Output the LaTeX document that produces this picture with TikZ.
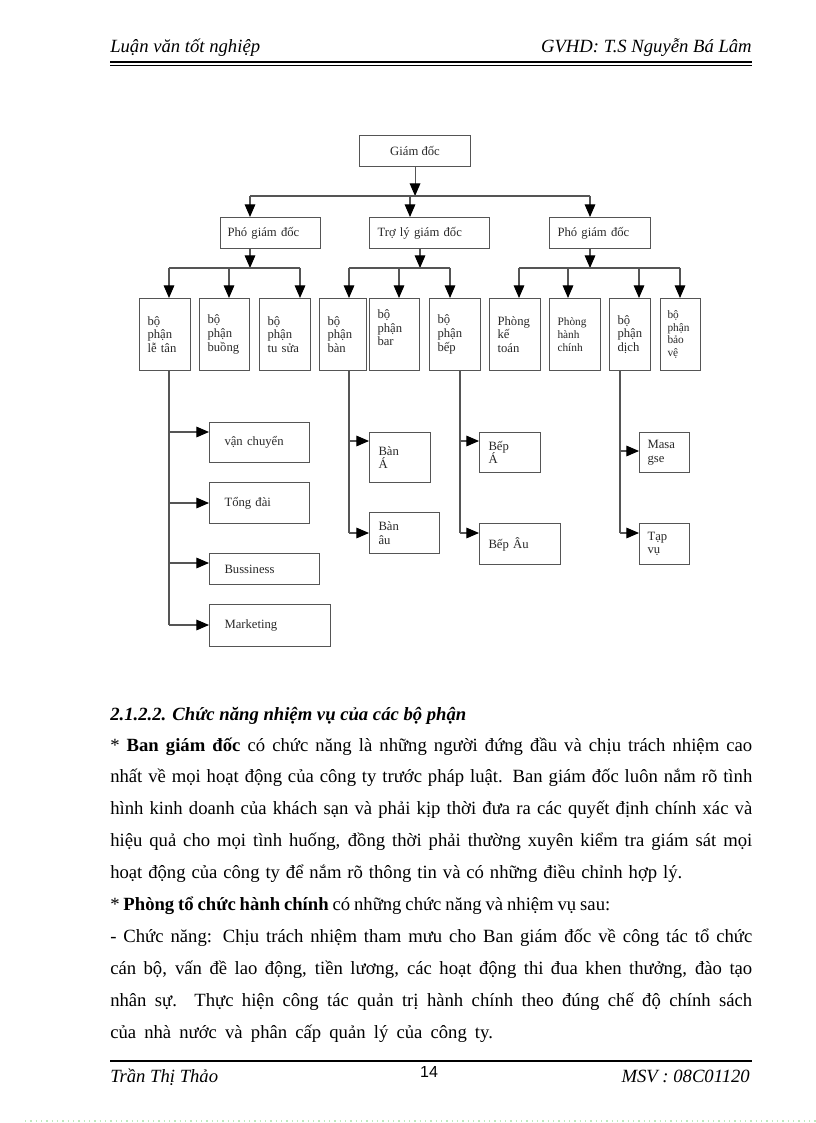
\documentclass[tikz,border=0pt]{standalone}
\usepackage{fontspec}
\setmainfont{Liberation Serif}
\newfontfamily\sansf{Liberation Sans}
\usetikzlibrary{arrows.meta}
\definecolor{lncol}{RGB}{85,85,85}
\definecolor{txcol}{RGB}{40,40,40}
\definecolor{dotcol}{RGB}{190,232,190}
\newcommand\chartfont{\fontsize{9.5}{10.2}\selectfont}
\newcommand\smallchart{\fontsize{8.5}{9.6}\selectfont}
\newcommand\hdfont{\fontsize{14}{16}\selectfont\itshape}
\newcommand\bodyfont{\fontsize{14}{16}\selectfont}
\newcommand\jline[1]{\makebox[481.5pt][s]{#1}}
\begin{document}
\begin{tikzpicture}[x=0.75pt,y=-0.75pt,
  box/.style={draw=lncol, line width=0.8pt, anchor=north west, font=\chartfont,
    text=txcol, align=left, inner ysep=0pt, inner xsep=6pt},
  ln/.style={draw=lncol, line width=0.8pt},
  arr/.style={ln, -{Triangle[width=8pt,length=9.5pt,color=black]}},
  txt/.style={inner sep=0pt, font=\bodyfont},
  rule/.style={draw=black}]
\useasboundingbox (0,0) rectangle (816,1123);

% ---------- header ----------
\node[txt, font=\hdfont, anchor=base west] (hl) at (110,53) {Luận văn tốt nghiệp};
\node[txt, font=\hdfont, anchor=base east] (hr) at (752,53) {GVHD: T.S Nguyễn Bá Lâm};
\coordinate (h1a) at (110,62); \coordinate (h1b) at (752,62);
\coordinate (h2a) at (110,65.5); \coordinate (h2b) at (752,65.5);
\draw[rule, line width=1.5pt] (h1a) -- (h1b);
\draw[rule, line width=0.6pt] (h2a) -- (h2b);

% ---------- chart: level 1 and 2 ----------
\node[box, align=center, minimum width=83.25pt, minimum height=23.25pt] (gd) at (359,135) {Giám đốc};
\node[box, minimum width=75pt, minimum height=23.25pt, inner xsep=5.25pt, text width=64.5pt] (p1) at (220,217) {Phó giám đốc};
\node[box, minimum width=90pt, minimum height=23.25pt, text width=78pt] (tl) at (369,217) {Trợ lý giám đốc};
\node[box, minimum width=75.75pt, minimum height=23.25pt, text width=63.75pt] (p2) at (549,217) {Phó giám đốc};

% ---------- level 3 ----------
\node[box, minimum width=38.25pt, minimum height=54pt, text width=26.25pt] (lt) at (139,298) {bộ\\phận\\lễ tân};
\node[box, minimum width=37.5pt, minimum height=54pt, text width=25.5pt] (bg) at (199,298) {bộ\\phận\\buồng};
\node[box, minimum width=38.25pt, minimum height=54pt, text width=26.25pt] (ts) at (259,298) {bộ\\phận\\tu sửa};
\node[box, minimum width=35.25pt, minimum height=54pt, text width=23.25pt] (bn) at (319,298) {bộ\\phận\\bàn};
\node[box, minimum width=37.5pt, minimum height=54pt, text width=25.5pt] (br) at (369,298) {bộ\\phận\\bar\\[0pt]\mbox{}};
\node[box, minimum width=38.25pt, minimum height=54pt, text width=26.25pt] (bp) at (429,298) {bộ\\phận\\bếp};
\node[box, minimum width=38.25pt, minimum height=54pt, text width=26.25pt] (kt) at (489,298) {Phòng\\kế\\toán};
\node[box, font=\smallchart, minimum width=38.25pt, minimum height=54pt, text width=26.25pt] (hc) at (549,298) {Phòng\\hành\\chính};
\node[box, minimum width=30.75pt, minimum height=54pt, text width=18.75pt] (dc) at (609,298) {bộ\\phận\\dịch};
\node[box, font=\smallchart, minimum width=30pt, minimum height=54pt, inner xsep=5.25pt, text width=19.5pt] (bv) at (660,298) {bộ\\phận\\bảo\\vệ};

% ---------- level 4 ----------
\node[box, minimum width=75pt, minimum height=30pt, inner xsep=11.25pt, text width=52.5pt] (vc) at (209,422) {vận chuyển};
\node[box, minimum width=75pt, minimum height=30.75pt, inner xsep=11.25pt, text width=52.5pt] (td) at (209,482) {Tổng đài};
\node[box, minimum width=82.5pt, minimum height=23.25pt, inner xsep=11.25pt, text width=60pt] (bs) at (209,553) {Bussiness};
\node[box, minimum width=90.75pt, minimum height=31.5pt, inner xsep=11.25pt, text width=68.25pt] (mk) at (209,604) {Marketing};
\node[box, minimum width=45.75pt, minimum height=37.5pt, inner xsep=6.75pt, text width=32.25pt] (ba) at (369,432) {Bàn\\Á};
\node[box, minimum width=52.5pt, minimum height=30.75pt, inner xsep=6.75pt, text width=39pt] (bu) at (369,512) {Bàn\\âu};
\node[box, minimum width=45.75pt, minimum height=30pt, inner xsep=6.75pt, text width=32.25pt] (ea) at (479,432) {Bếp\\Á};
\node[box, minimum width=60.75pt, minimum height=30.75pt, inner xsep=6.75pt, text width=47.25pt] (eu) at (479,523) {Bếp Âu};
\node[box, minimum width=37.5pt, minimum height=30pt, text width=25.5pt] (ms) at (639,432) {Masa\\gse};
\node[box, minimum width=37.5pt, minimum height=30.75pt, text width=25.5pt] (tv) at (639,523) {Tạp\\vụ};

% ---------- connectors level 1 -> 2 ----------
\coordinate (j0L) at (250,196); \coordinate (j0M) at (410,196); \coordinate (j0R) at (590,196);
\draw[arr] (gd.south) -- (gd.south |- j0L);
\draw[ln] (j0L) -- (j0R);
\draw[arr] (j0L) -- (j0L |- p1.north);
\draw[arr] (j0M) -- (j0M |- tl.north);
\draw[arr] (j0R) -- (j0R |- p2.north);

% ---------- level 2 -> 3 ----------
\coordinate (a0) at (250,268);
\coordinate (a1) at (169,268); \coordinate (a2) at (229,268); \coordinate (a3) at (300,268);
\draw[arr] (a0 |- p1.south) -- (a0);
\draw[ln] (a1) -- (a3);
\draw[arr] (a1) -- (a1 |- lt.north);
\draw[arr] (a2) -- (a2 |- bg.north);
\draw[arr] (a3) -- (a3 |- ts.north);

\coordinate (b0) at (420,268);
\coordinate (b1) at (349,268); \coordinate (b2) at (399,268); \coordinate (b3) at (450,268);
\draw[arr] (b0 |- tl.south) -- (b0);
\draw[ln] (b1) -- (b3);
\draw[arr] (b1) -- (b1 |- bn.north);
\draw[arr] (b2) -- (b2 |- br.north);
\draw[arr] (b3) -- (b3 |- bp.north);

\coordinate (c0) at (590,268);
\coordinate (c1) at (519,268); \coordinate (c2) at (568,268); \coordinate (c3) at (639,268); \coordinate (c4) at (680,268);
\draw[arr] (c0 |- p2.south) -- (c0);
\draw[ln] (c1) -- (c4);
\draw[arr] (c1) -- (c1 |- kt.north);
\draw[arr] (c2) -- (c2 |- hc.north);
\draw[arr] (c3) -- (c3 |- dc.north);
\draw[arr] (c4) -- (c4 |- bv.north);

% ---------- level 3 -> 4 ----------
\coordinate (d1) at (169,432); \coordinate (d2) at (169,503); \coordinate (d3) at (169,563); \coordinate (d4) at (169,625);
\draw[ln] (d4 |- lt.south) -- (d4);
\draw[arr] (d1) -- (d1 -| vc.west);
\draw[arr] (d2) -- (d2 -| td.west);
\draw[arr] (d3) -- (d3 -| bs.west);
\draw[arr] (d4) -- (d4 -| mk.west);

\coordinate (e1) at (349,441); \coordinate (e2) at (349,533);
\draw[ln] (e2 |- bn.south) -- (e2);
\draw[arr] (e1) -- (e1 -| ba.west);
\draw[arr] (e2) -- (e2 -| bu.west);

\coordinate (f1) at (460,441); \coordinate (f2) at (460,533);
\draw[ln] (f2 |- bp.south) -- (f2);
\draw[arr] (f1) -- (f1 -| ea.west);
\draw[arr] (f2) -- (f2 -| eu.west);

\coordinate (g1) at (620,451); \coordinate (g2) at (620,533);
\draw[ln] (g2 |- dc.south) -- (g2);
\draw[arr] (g1) -- (g1 -| ms.west);
\draw[arr] (g2) -- (g2 -| tv.west);

% ---------- body text ----------
\node[txt, anchor=base west] (t0) at (110,720) {\textbf{\textit{2.1.2.2. Chức năng nhiệm vụ của các bộ phận}}};
\node[txt, anchor=base west] (t1) at (110,751) {\jline{* \textbf{Ban giám đốc} có chức năng là những người đứng đầu và chịu trách nhiệm cao}};
\node[txt, anchor=base west] (t2) at (110,782.9) {\jline{nhất về mọi hoạt động của công ty trước pháp luật. Ban giám đốc luôn nắm rõ tình}};
\node[txt, anchor=base west] (t3) at (110,814.8) {\jline{hình kinh doanh của khách sạn và phải kịp thời đưa ra các quyết định chính xác và}};
\node[txt, anchor=base west] (t4) at (110,846.7) {\jline{hiệu quả cho mọi tình huống, đồng thời phải thường xuyên kiểm tra giám sát mọi}};
\node[txt, anchor=base west] (t5) at (110,878.6) {\makebox[429pt][s]{hoạt động của công ty để nắm rõ thông tin và có những điều chỉnh hợp lý.}};
\node[txt, anchor=base west] (t6) at (110,910.5) {\makebox[375pt][s]{* \textbf{Phòng tổ chức hành chính} có những chức năng và nhiệm vụ sau:}};
\node[txt, anchor=base west] (t7) at (110,942.4) {\jline{- Chức năng: Chịu trách nhiệm tham mưu cho Ban giám đốc về công tác tổ chức}};
\node[txt, anchor=base west] (t8) at (110,974.3) {\jline{cán bộ, vấn đề lao động, tiền lương, các hoạt động thi đua khen thưởng, đào tạo}};
\node[txt, anchor=base west] (t9) at (110,1006.2) {\jline{nhân sự. Thực hiện công tác quản trị hành chính theo đúng chế độ chính sách}};
\node[txt, anchor=base west] (t10) at (110,1038.1) {\makebox[287pt][s]{của nhà nước và phân cấp quản lý của công ty.}};

% ---------- footer ----------
\coordinate (fa) at (110,1061); \coordinate (fb) at (752,1061);
\draw[rule, line width=1.6pt] (fa) -- (fb);
\node[txt, font=\hdfont, anchor=base west] (fl) at (110,1082) {Trần Thị Thảo};
\node[txt, font=\sansf\fontsize{12}{14}\selectfont, anchor=base] (pg) at (429,1077) {14};
\node[txt, font=\hdfont, anchor=base east] (fr) at (750,1082) {MSV : 08C01120};
\coordinate (da) at (25,1121); \coordinate (db) at (816,1121);
\draw[draw=dotcol, line width=0.8pt, dash pattern=on 1pt off 3pt] (da) -- (db);
\end{tikzpicture}
\end{document}
